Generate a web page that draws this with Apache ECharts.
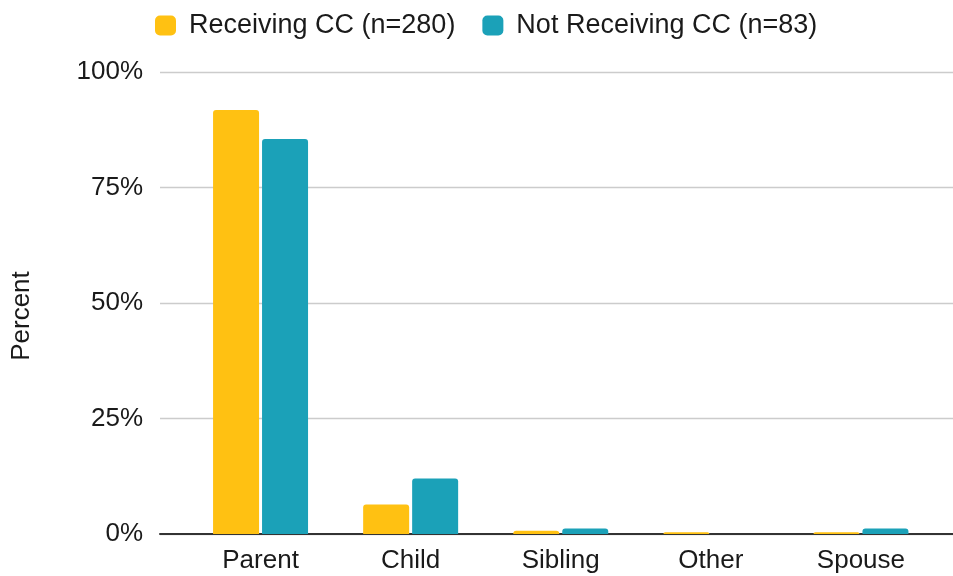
<!DOCTYPE html>
<html>
<head>
<meta charset="utf-8">
<script src="https://cdn.jsdelivr.net/npm/echarts@6/dist/echarts.min.js"></script>
<style>
  html, body { margin: 0; padding: 0; background: #fff; }
  #chart { width: 953px; height: 576px; }
</style>
</head>
<body>
<div id="chart"></div>
<script>
// Relationship of caregiver, by care-coordination status (percent of group)
const categories = ['Parent', 'Child', 'Sibling', 'Other', 'Spouse'];
const receivingCC = [91.8, 6.4, 0.7, 0.4, 0.4];      // n=280
const notReceivingCC = [85.5, 12.0, 1.2, 0, 1.2];    // n=83
const yTicks = [0, 25, 50, 75, 100];
const seriesNames = ['Receiving CC (n=280)', 'Not Receiving CC (n=83)'];

const chart = echarts.init(document.getElementById('chart'), null, { renderer: 'canvas' });
const FONT = '"Liberation Sans", Arial, sans-serif';
const TEXT = '#1a1a1a';
const TOP = 72, BOTTOM = 42;

chart.setOption({
  animation: false,
  textStyle: { fontFamily: FONT },
  legend: {
    top: 7,
    left: 150,
    itemWidth: 21,
    itemHeight: 20,
    itemGap: 27,
    icon: 'roundRect',
    textStyle: { fontSize: 27, color: TEXT, fontFamily: FONT, padding: [0, 0, 0, 8] },
    data: seriesNames
  },
  grid: [
    // bars
    { left: 185.5, right: 17, top: TOP, bottom: BOTTOM, outerBoundsMode: 'none', containLabel: false },
    // gridlines, percent labels and baseline
    { left: 160, right: 0, top: TOP, bottom: BOTTOM, outerBoundsMode: 'none', containLabel: false }
  ],
  graphic: [
    {
      type: 'text',
      x: 22, y: 316,
      rotation: Math.PI / 2,
      style: {
        text: 'Percent',
        fill: TEXT,
        font: '26px "Liberation Sans", Arial, sans-serif',
        align: 'center',
        verticalAlign: 'middle'
      }
    }
  ],
  xAxis: [
    {
      gridIndex: 0,
      type: 'category',
      data: categories,
      axisLine: { show: false },
      axisTick: { show: false },
      axisLabel: { fontSize: 26, color: TEXT, margin: 14, fontFamily: FONT }
    },
    {
      gridIndex: 1,
      type: 'value',
      min: 0, max: 1,
      axisLine: { show: true, lineStyle: { color: '#333', width: 2 } },
      axisTick: { show: false },
      axisLabel: { show: false },
      splitLine: { show: false }
    }
  ],
  yAxis: [
    {
      gridIndex: 0,
      type: 'value',
      min: 0, max: 100, interval: 25,
      show: false,
      splitLine: { show: false }
    },
    {
      gridIndex: 1,
      type: 'value',
      min: yTicks[0], max: yTicks[yTicks.length - 1], interval: 25,
      axisLine: { show: false },
      axisTick: { show: false },
      axisLabel: { fontSize: 26, color: TEXT, margin: 17, formatter: v => v + '%', fontFamily: FONT },
      splitLine: { show: true, lineStyle: { color: '#cccccc', width: 1.3 } }
    }
  ],
  series: [
    {
      name: seriesNames[0],
      type: 'bar',
      xAxisIndex: 0, yAxisIndex: 0,
      data: receivingCC,
      barWidth: 46,
      barGap: '6.5%',
      itemStyle: { color: '#FFC112', borderRadius: [3, 3, 0, 0] },
      z: 3
    },
    {
      name: seriesNames[1],
      type: 'bar',
      xAxisIndex: 0, yAxisIndex: 0,
      data: notReceivingCC,
      barWidth: 46,
      barGap: '6.5%',
      itemStyle: { color: '#1BA1B8', borderRadius: [3, 3, 0, 0] },
      z: 3
    }
  ]
});
</script>
</body>
</html>
